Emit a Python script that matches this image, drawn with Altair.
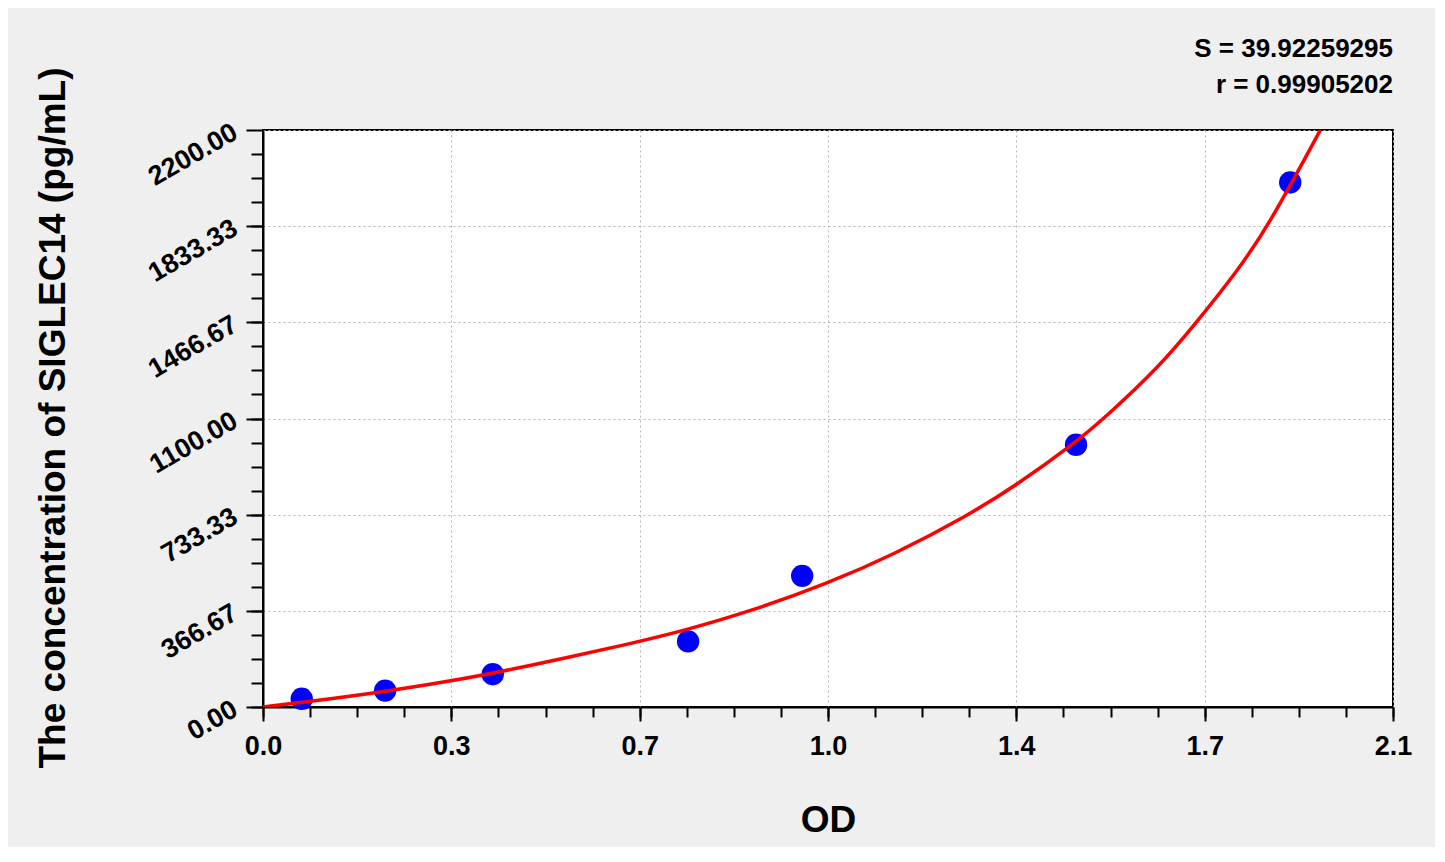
import json
import altair as alt
import pandas as pd

# ---- data ----
OD_POINTS = [0.072, 0.227, 0.427, 0.790, 1.002, 1.511, 1.909]
CONC_POINTS = [31.25, 62.5, 125, 250, 500, 1000, 2000]

CURVE_OD = [0.0, 0.087, 0.227, 0.351, 0.478, 0.700, 0.787, 0.909, 1.048, 1.171,
            1.308, 1.400, 1.511, 1.563, 1.667, 1.735, 1.810, 1.868, 1.965]
CURVE_CONC = [0, 21, 59, 99, 149, 249, 294, 367, 470, 580,
              728, 845, 1010, 1100, 1300, 1467, 1660, 1833, 2200]

X_TICKS = [0.0, 0.35, 0.70, 1.05, 1.40, 1.75, 2.10]
X_TICK_LABELS = ["0.0", "0.3", "0.7", "1.0", "1.4", "1.7", "2.1"]
X_MINOR_TICKS = [round(0.0875 * i, 6) for i in range(25)]

Y_TICKS = [0.0, 366.6667, 733.3333, 1100.0, 1466.6667, 1833.3333, 2200.0]
Y_TICK_LABELS = ["0.00", "366.67", "733.33", "1100.00", "1466.67", "1833.33", "2200.00"]
Y_MINOR_TICKS = [round(91.66667 * i, 4) for i in range(25)]

S_TEXT = "S = 39.92259295"
R_TEXT = "r = 0.99905202"
X_TITLE = "OD"
Y_TITLE = "The concentration of SIGLEC14 (pg/mL)"

points = pd.DataFrame({"od": OD_POINTS, "conc": CONC_POINTS})
curve = pd.DataFrame({"od": CURVE_OD, "conc": CURVE_CONC})

FONT = "Liberation Sans"
W, H = 1130, 577

x_scale = alt.Scale(domain=[0, 2.1], nice=False, zero=False)
y_scale = alt.Scale(domain=[0, 2200], nice=False, zero=False)

x_label_expr = f"{json.dumps(X_TICK_LABELS)}[indexof({json.dumps(X_TICKS)}, datum.value)]"
y_label_expr = f"{json.dumps(Y_TICK_LABELS)}[indexof({json.dumps(Y_TICKS)}, datum.value)]"

major_x = alt.Axis(
    orient="bottom", values=X_TICKS, labelExpr=x_label_expr, title=X_TITLE,
    grid=True, gridColor="#b4b4b4", gridDash=[2, 3], gridWidth=1,
    tickSize=14, tickWidth=2, tickColor="black",
    domainColor="black", domainWidth=2,
    labelFont=FONT, labelFontSize=27, labelFontWeight="bold", labelColor="black",
    labelPadding=12, labelFlush=False, labelOverlap=False,
    titleFont=FONT, titleFontSize=37, titleFontWeight="bold", titleColor="black",
    titleY=124, titleBaseline="alphabetic",
)
major_y = alt.Axis(
    orient="left", values=Y_TICKS, labelExpr=y_label_expr, title=Y_TITLE,
    grid=True, gridColor="#b4b4b4", gridDash=[2, 3], gridWidth=1,
    tickSize=17, tickWidth=2, tickColor="black",
    domainColor="black", domainWidth=2,
    labelFont=FONT, labelFontSize=27, labelFontWeight="bold", labelColor="black",
    labelAngle=330, labelAlign="right", labelBaseline="middle",
    labelPadding=11, labelFlush=False, labelOverlap=False,
    titleFont=FONT, titleFontSize=37, titleFontWeight="bold", titleColor="black",
    titleAngle=270, titleX=-199, titleY=H / 2 - 1, titleAlign="center", titleBaseline="alphabetic",
)
minor_x = alt.Axis(
    orient="bottom", values=X_MINOR_TICKS, labels=False, grid=False, domain=False,
    tickSize=10, tickWidth=2, tickColor="black", title=None,
)
minor_y = alt.Axis(
    orient="left", values=Y_MINOR_TICKS, labels=False, grid=False, domain=False,
    tickSize=12, tickWidth=2, tickColor="black", title=None,
)

pts = alt.Chart(points).mark_circle(size=500, color="#0000ff", opacity=1).encode(
    x=alt.X("od:Q", scale=x_scale, axis=major_x),
    y=alt.Y("conc:Q", scale=y_scale, axis=major_y),
)

line = alt.Chart(curve).mark_line(color="#ff0000", strokeWidth=3.5, interpolate="basis", clip=True).encode(
    x=alt.X("od:Q", scale=x_scale, axis=minor_x),
    y=alt.Y("conc:Q", scale=y_scale, axis=minor_y),
)

chart = alt.layer(pts, line).resolve_axis(x="independent", y="independent").properties(
    width=W,
    height=H,
    autosize=alt.AutoSizeParams(type="none"),
    padding={"left": 255, "top": 122, "right": 42, "bottom": 140},
    background="#efefef",
    title=alt.TitleParams(
        text=S_TEXT, subtitle=R_TEXT, anchor="end", orient="top", frame="group",
        font=FONT, fontSize=26, fontWeight="bold", color="black",
        subtitleFont=FONT, subtitleFontSize=26, subtitleFontWeight="bold", subtitleColor="black",
        subtitlePadding=10, offset=-31,
    ),
).configure_view(stroke="black", strokeWidth=2, fill="white")

chart.save("out.html", embed_options={"renderer": "svg", "actions": False})
